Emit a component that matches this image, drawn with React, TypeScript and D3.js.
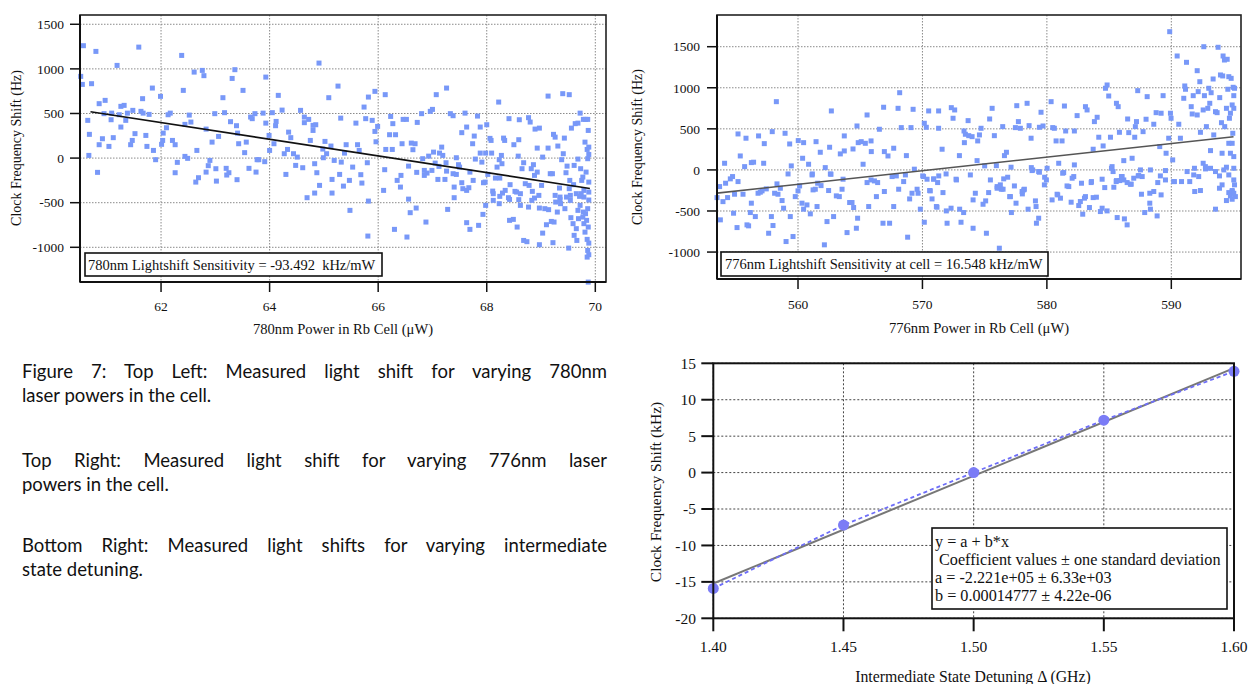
import React, { useLayoutEffect, useRef } from 'react';
import * as d3 from 'd3';

const SERIF = '"Liberation Serif", "Times New Roman", serif';
const SANS = 'Lato, "Open Sans", sans-serif';

// ---------- Top-left: 780nm ----------
const tlXTicks = [62, 64, 66, 68, 70];
const tlYTicks = [-1000, -500, 0, 500, 1000, 1500];
const tlSlope = -93.492; // Hz per uW (fit)
const tlIntercept = 6194.96;
const tlFitRange = [60.7, 69.9];
const tlPoints: [number, number][] = [
[60.57,1260],[60.52,916],[60.55,826],[60.72,834],[60.80,1196],[60.65,423],[60.68,266],[60.67,30],[60.83,-160],[60.86,610],[60.86,150],[60.92,217],[60.97,647],[60.95,498],[61.04,131],[61.08,430],[61.09,504],[61.12,229],[61.19,1039],[61.23,486],[61.26,580],[61.32,591],[61.26,348],[61.35,423],[61.38,504],[61.44,150],[61.47,198],[61.48,535],[61.52,274],[61.59,1244],[61.63,524],[61.66,666],[61.67,504],[61.72,254],[61.74,131],[61.78,490],[61.84,785],[61.86,86],[61.90,-18],[61.99,692],[62.01,154],[62.04,280],[62.03,198],[62.10,340],[62.13,486],[62.17,504],[62.21,198],[62.26,150],[62.26,-164],[62.30,-48],[62.38,1151],[62.41,759],[62.44,378],[62.44,19],[62.49,-3],[62.52,482],[62.55,404],[62.61,964],[62.64,-269],[62.66,86],[62.69,-220],[62.76,983],[62.79,924],[62.83,325],[62.83,-157],[62.87,-85],[62.90,-26],[62.94,179],[62.99,498],[63.01,-119],[63.02,-258],[63.06,243],[63.14,677],[63.17,509],[63.20,-115],[63.21,-190],[63.25,-164],[63.28,408],[63.31,893],[63.36,991],[63.39,363],[63.40,-242],[63.41,280],[63.43,161],[63.51,759],[63.54,61],[63.57,179],[63.62,-115],[63.65,460],[63.68,442],[63.73,498],[63.75,-157],[63.77,-18],[63.80,-18],[63.88,504],[63.91,-40],[63.93,908],[63.93,392],[63.99,254],[64.00,86],[64.05,509],[64.08,161],[64.11,363],[64.12,411],[64.16,703],[64.23,538],[64.27,49],[64.30,-183],[64.35,291],[64.33,97],[64.39,229],[64.44,49],[64.48,-82],[64.51,11],[64.57,535],[64.61,-108],[64.64,460],[64.64,397],[64.69,-444],[64.72,434],[64.75,198],[64.80,367],[64.83,-63],[64.85,374],[64.91,1065],[64.92,-306],[64.83,-392],[64.80,310],[64.87,-164],
[65.02,187],[64.98,101],[64.99,4],[65.05,49],[65.09,677],[65.13,135],[65.15,-239],[65.15,-392],[65.19,-26],[65.26,807],[65.29,-183],[65.32,-45],[65.31,448],[65.36,-314],[65.38,56],[65.41,150],[65.47,-250],[65.53,-101],[65.59,392],[65.62,150],[65.65,86],[65.68,-186],[65.70,-280],[65.74,572],[65.77,442],[65.80,-52],[65.82,684],[65.89,423],[65.94,748],[65.94,299],[65.99,355],[65.96,183],[66.13,711],[66.14,97],[66.12,-130],[66.10,-362],[66.21,262],[66.23,467],[66.26,97],[66.27,386],[66.32,262],[66.35,-250],[66.42,-194],[66.41,-325],[66.44,161],[66.46,434],[66.52,434],[66.56,-90],[66.56,-460],[66.61,168],[66.64,94],[66.68,161],[66.71,-160],[66.72,400],[66.80,498],[66.82,-7],[66.85,-138],[66.90,-168],[66.85,-194],[66.93,22],[66.96,524],[67.00,546],[66.99,-138],[67.02,67],[67.05,-56],[67.07,711],[67.10,-239],[67.12,-93],[67.13,56],[67.17,123],[67.19,30],[67.23,-239],[67.25,-52],[67.26,785],[67.26,-146],[67.33,498],[67.38,475],[67.38,-175],[67.40,-325],[67.44,4],[67.44,-183],[67.48,-74],[67.50,-101],[67.54,285],[67.54,-276],[67.56,-343],[67.60,504],[67.63,348],[67.63,-362],[67.67,-332],[67.69,-157],[67.74,161],[67.75,-250],[67.77,247],[67.79,-11],[67.83,471],[67.88,348],[67.88,56],[67.91,-45],[67.94,-276],[67.97,-269],[67.98,56],[68.00,374],[68.02,-183],[68.06,221],[68.08,198],[68.09,56],[68.11,-370],[68.12,-399],[68.16,-224],[68.19,-101],[68.22,628],[68.23,-18],[68.24,-224],[68.27,30],[68.28,-63],[68.29,-392],[68.31,224],[68.33,198],[68.34,-362],[68.40,-444],[68.41,442],[68.43,-298],[68.50,150],[68.52,-373],[68.55,-381],[68.58,22],[68.59,206],[68.60,430],[68.62,-399],[68.65,-119],[68.68,-52],[68.71,-287],[68.77,453],[68.78,-306],[68.80,404],[68.82,-119],[68.84,-373],[68.86,-74],[68.88,-194],[68.89,325],[68.93,-157],[68.93,112],[68.96,-418],[68.97,336],[69.01,-306],[69.03,11],[69.13,112],[69.13,695],[69.17,-175],[69.21,-175],[69.23,266],[69.26,235],[69.31,135],[69.34,-336],[69.35,-437],[69.38,-18],[69.40,722],[69.41,49],[69.43,224],[69.46,-164],[69.48,-90],[69.52,711],[69.52,-343],[69.53,-250],[69.54,-418],[69.56,336],[69.60,-298],[69.61,-82],[69.63,386],[69.65,-399],[69.68,392],[69.68,-11],[69.71,-429],[69.72,504],[69.73,-119],[69.75,-250],[69.77,-213],[69.78,434],[69.79,-362],[69.79,-437],[69.81,179],[69.82,434],[69.83,-157],[69.85,97],[69.86,434],[69.86,-7],[69.87,310],[69.88,123],[69.88,41],[69.88,-269],[69.88,-381],[69.88,-470],
[65.48,-586],[65.82,-482],[65.81,-874],[66.30,-799],[66.53,-885],[66.59,-612],[66.70,-560],[66.88,-717],[67.28,-575],[67.40,-444],[67.63,-724],[67.69,-799],[67.85,-754],[67.93,-631],[67.98,-530],[68.12,-474],[68.24,-429],[68.23,-511],[68.42,-698],[68.49,-687],[68.56,-773],[68.42,-463],[68.59,-466],[68.62,-530],[68.68,-923],[68.74,-937],[68.77,-549],[68.83,-474],[68.88,-448],[68.97,-560],[68.97,-971],[69.03,-841],[69.07,-567],[69.10,-747],[69.14,-578],[69.19,-710],[69.22,-948],[69.24,-717],[69.26,-418],[69.27,-493],[69.30,-605],[69.35,-466],[69.36,-511],[69.44,-567],[69.47,-437],[69.51,-1009],[69.54,-474],[69.55,-668],[69.59,-735],[69.61,-866],[69.65,-791],[69.66,-923],[69.68,-586],[69.69,-679],[69.72,-530],[69.74,-399],[69.77,-661],[69.78,-605],[69.79,-735],[69.81,-830],[69.82,-623],[69.84,-698],[69.85,-911],[69.85,-1110],[69.86,-1035],[69.86,-567],[69.87,-773],[69.88,-953],[69.88,-1083],[69.87,-1390]
];

// ---------- Top-right: 776nm ----------
const trXTicks = [560, 570, 580, 590];
const trYTicks = [-1000, -500, 0, 500, 1000, 1500];
const trSlope = 16.548;
const trIntercept = -9442.15;
const trFitRange = [553.49, 595.0];
const trPoints: [number, number][] = [
[558.26,831],[562.68,718],[568.17,940],[566.88,763],[568.04,750],[569.25,738],[565.55,669],[564.74,535],[566.54,495],[568.30,515],[569.08,515],[555.18,438],[555.82,386],[556.83,414],[557.29,320],[557.93,466],[558.96,446],[559.33,316],[560.02,357],[560.45,332],[561.45,344],[561.79,215],[562.54,276],[563.40,195],[563.72,231],[563.72,414],[564.42,255],[564.84,332],[565.08,344],[565.41,324],[565.87,353],[565.89,223],[565.23,69],[566.94,223],[567.23,170],[567.69,264],[568.71,174],[570.15,568],[570.31,519],[570.50,718],[571.30,718],[571.30,507],[554.10,81],[555.36,170],[555.71,40],[556.25,89],[556.43,94],[557.24,81],[559.20,-49],[559.46,49],[560.37,142],[560.85,69],[561.15,-49],[562.19,28],[562.60,-49],
[553.49,-337],[553.70,-203],[553.76,-608],[553.97,-386],[554.18,-162],[554.34,-337],[554.56,-109],[554.74,-81],[554.90,-296],[555.18,-142],[554.82,-527],[555.10,-702],[555.58,-296],[556.17,-519],[556.03,-681],[555.90,-669],[556.25,-405],[556.57,-568],[556.79,-284],[556.97,-271],[557.11,-255],[557.45,-231],[557.64,-771],[557.86,-568],[557.99,-677],[558.12,-284],[558.31,-170],[558.39,-296],[558.58,-223],[558.72,-373],[558.84,-466],[559.04,-872],[559.38,-568],[559.60,-811],[559.78,-325],[560.00,-255],[560.13,-195],[560.32,-405],[560.45,-478],[560.72,-426],[560.99,-535],[561.13,-61],[561.21,-243],[561.39,-235],[561.53,-446],[561.58,-162],[561.85,-191],[562.12,-912],[562.33,-629],[562.46,-251],[562.65,-53],[562.86,-568],[563.08,-316],[563.32,-325],[563.54,-235],[563.62,-113],[563.94,-763],[564.15,-397],[564.34,-397],[564.47,-458],[564.69,-710],[564.79,-588],[565.55,-154],[565.68,-446],[565.87,-122],[566.14,-134],[566.30,-325],[566.40,-154],[566.83,-649],[566.94,-263],[567.36,-649],[567.56,-81],[567.69,-446],[567.90,-73],[568.09,-235],[568.49,-142],[568.63,-61],[568.81,-819],[568.97,-353],[569.16,-284],[569.35,9],[569.57,-235],[569.65,-284],[569.83,-478],[570.02,-73],[570.15,-637],[570.37,-113],[570.58,-251],[570.77,-353],[570.90,-113],[571.12,-446],[571.31,-73],
[571.58,252],[572.32,758],[572.59,730],[572.46,629],[572.97,174],[573.34,474],[573.45,434],[573.67,600],[573.72,417],[573.99,405],[573.37,332],[574.44,353],[574.58,426],[574.71,507],[574.39,113],[575.00,49],[575.40,620],[575.60,750],[575.78,417],[575.94,52],[576.45,527],[576.75,215],[576.59,174],[577.12,33],[577.47,515],[577.58,782],[577.71,588],[577.87,507],[578.41,811],[578.57,539],[578.73,386],[578.86,0],[579.34,-20],[579.40,519],[579.53,702],[579.69,535],[580.02,20],[580.34,831],[580.47,515],[580.60,507],[580.74,353],[580.95,81],[581.22,353],[581.27,-40],[581.41,778],[581.51,474],[582.21,474],[582.21,61],[582.43,661],[583.10,770],[583.23,730],[583.72,252],[583.82,588],[584.04,641],[584.17,398],[584.52,292],[584.71,994],[584.84,1034],[584.97,900],[585.11,398],[585.24,40],[585.59,811],[585.73,770],[585.83,458],[586.18,113],[586.49,620],[586.58,454],[586.85,142],[587.06,398],[587.11,527],[587.20,588],[587.30,965],[587.73,466],[587.97,617],[588.06,892],[588.59,556],[588.78,697],[589.07,284],[589.18,690],[589.34,904],[589.58,203],[589.79,386],[589.87,1683],[589.93,690],[589.98,629],[590.47,1387],[590.60,556],[590.73,386],[591.00,872],[591.08,1022],[591.14,982],[591.22,1310],[591.60,770],[591.68,681],[591.76,904],[592.08,669],[592.08,1208],[592.16,953],[592.29,1074],[592.34,458],[592.56,730],[592.66,904],[592.61,1500],[592.82,527],[592.93,750],[593.01,994],[593.09,811],[593.20,940],[593.36,1107],[593.41,426],[593.55,709],[593.68,697],[593.76,1493],[593.89,880],[593.95,1156],[594.03,575],[594.13,1144],[594.16,1387],[594.29,527],[594.43,750],[594.27,1338],[594.49,1347],[594.54,982],[594.62,1135],[594.67,629],[594.75,690],[594.81,1115],[594.89,791],[594.94,446],[594.97,1006],[595.02,904],[595.02,750],[594.89,324],[594.62,324],[595.08,994],[594.75,203],[594.08,203],[595.02,162],[593.15,235],[592.75,12],[593.15,20],[593.55,-20],[593.87,-73],[594.22,0],[594.43,33],[594.62,-61],[595.02,20],[595.02,-122],[594.89,-263],[595.15,-325],[592.56,81],[592.20,-81],[591.86,20],[591.80,-61],[591.27,-20],[590.82,-142],[590.25,-142],[590.11,122],[589.53,-8],[589.12,-73],[588.91,-154],[588.32,0],[588.27,-284],[587.66,-81],[587.52,0],[587.34,-73],[586.78,-174],[586.45,-154],[586.18,-122],[585.99,-81],[585.59,-130],[585.32,-20],[584.65,-215],[584.44,-113],[583.58,-142],[583.10,-325],[582.78,-162],[582.16,-81],[581.76,-203],[581.35,-32],[580.82,-296],[579.96,-122],[579.80,-182],[578.81,-8],[578.14,-243],[578.03,-292],[577.39,-195],[577.01,-325],[576.85,-89],[576.53,-109],[576.34,-235],[576.00,-203],[575.46,-122],[575.32,-276],[574.25,-284],[573.85,-61],[572.70,-113],[571.90,-49],[571.65,-276],[571.22,-154],[570.90,-109],[570.63,-255],[570.09,-81],
[571.17,-454],[571.98,-649],[571.92,-499],[572.30,-466],[572.73,-122],[572.99,-478],[573.10,-637],[573.31,-519],[574.07,-365],[574.07,-710],[574.87,-418],[575.08,-377],[575.14,-771],[576.00,-223],[576.18,-953],[576.26,-182],[576.48,-235],[577.07,-325],[577.15,-519],[577.52,-405],[578.01,-263],[578.19,-235],[578.49,-478],[578.75,28],[579.08,-377],[579.13,-446],[579.16,-649],[579.34,-588],[579.40,-28],[579.82,-89],[580.42,-365],[580.87,-304],[581.09,-344],[581.62,-195],[581.95,-393],[582.03,-101],[582.56,-434],[582.69,-385],[582.88,-539],[583.02,-344],[583.42,-458],[583.56,-154],[583.72,-337],[583.98,-332],[584.30,-507],[584.44,-466],[584.84,-499],[585.19,20],[585.38,-211],[585.57,-142],[585.65,-580],[585.85,-130],[586.05,-81],[586.23,-596],[586.45,-669],[586.71,-174],[586.98,-101],[587.38,-69],[587.60,-296],[587.86,-519],[588.27,-405],[588.32,-478],[588.59,-263],[588.86,-560],[589.18,-304],[589.53,-122],[590.19,-142],[591.48,-142],[591.88,-263],[592.34,-251],[592.74,40],[593.55,-478],[593.87,-223],[594.08,-182],[594.43,-373],[594.62,-276],[594.75,-316],[594.89,-251],[595.02,-284],[595.08,-182],[594.89,-357]
];

// ---------- Bottom-right: detuning ----------
const detuningGHz = [1.40, 1.45, 1.50, 1.55, 1.60];
const shiftKHz = [-15.9, -7.2, 0.0, 7.2, 13.9];
const fitA = -222.1; // kHz
const fitB = 147.77; // kHz per GHz
const brXTicks = [1.40, 1.45, 1.50, 1.55, 1.60];
const brYTicks = [-20, -15, -10, -5, 0, 5, 10, 15];

const captionLines = [
  { text: 'Figure 7: Top Left: Measured light shift for varying 780nm', justify: true },
  { text: 'laser powers in the cell.', justify: false },
  { text: 'Top Right: Measured light shift for varying 776nm laser', justify: true },
  { text: 'powers in the cell.', justify: false },
  { text: 'Bottom Right: Measured light shifts for varying intermediate', justify: true },
  { text: 'state detuning.', justify: false },
];
const captionY = [378, 402, 467, 491, 552, 576];

const legendBottom = [
  'y = a + b*x',
  ' Coefficient values \u00b1 one standard deviation',
  'a = -2.221e+05 \u00b1 6.33e+03',
  'b = 0.00014777 \u00b1 4.22e-06',
];

function JLine({ x, y, width, text, justify }: { x: number; y: number; width: number; text: string; justify: boolean }) {
  const ref = useRef<SVGTextElement>(null);
  useLayoutEffect(() => {
    const fit = () => {
      const el = ref.current;
      if (!el || !justify) return;
      el.style.wordSpacing = '0px';
      const natural = el.getComputedTextLength();
      const spaces = (text.match(/ /g) || []).length;
      if (spaces > 0) el.style.wordSpacing = `${Math.max(0, (width - natural) / spaces)}px`;
    };
    fit();
    if ((document as any).fonts) (document as any).fonts.ready.then(fit);
  }, [text, width, justify]);
  return (
    <text ref={ref} x={x} y={y} fontFamily={SANS} fontSize={18.5} fill="#111" style={{ whiteSpace: 'pre' }}>
      {text}
    </text>
  );
}

type ScatterCfg = {
  left: number; right: number; top: number; bottom: number;
  xDomain: [number, number]; yDomain: [number, number];
  xTicks: number[]; yTicks: number[];
  points: [number, number][];
  slope: number; intercept: number; fitRange: number[]; fitColor: string;
  xTitle: string; yTitle: string; xTitleY: number; yTitleX: number; yTitleCy: number;
  xLabelY: number; yLabelX: number;
  legend: string; legendBox: [number, number, number, number]; legendTextX: number; legendTextY: number;
};

function ScatterPanel({ c }: { c: ScatterCfg }) {
  const x = d3.scaleLinear().domain(c.xDomain).range([c.left, c.right]);
  const y = d3.scaleLinear().domain(c.yDomain).range([c.bottom, c.top]);
  const fitLine = d3.line<number>().x((v) => x(v)).y((v) => y(c.intercept + c.slope * v));
  const sq = 5;
  return (
    <g>
      {c.yTicks.map((t) => (
        <line key={'gy' + t} x1={c.left} x2={c.right} y1={y(t)} y2={y(t)} stroke="#8a8a8a" strokeWidth={1} strokeDasharray="1.5,1.5" />
      ))}
      {c.xTicks.map((t) => (
        <line key={'gx' + t} x1={x(t)} x2={x(t)} y1={c.top} y2={c.bottom} stroke="#8a8a8a" strokeWidth={1} strokeDasharray="1.5,1.5" />
      ))}
      {c.points.map((p, i) => (
        <rect key={i} x={x(p[0]) - sq / 2} y={y(p[1]) - sq / 2} width={sq} height={sq} fill="#7898f8" />
      ))}
      <path d={fitLine(c.fitRange) || ''} fill="none" stroke={c.fitColor} strokeWidth={1.6} />
      <rect x={c.left} y={c.top} width={c.right - c.left} height={c.bottom - c.top} fill="none" stroke="#222" strokeWidth={1.6} />
      <line x1={c.left} x2={c.left} y1={c.top} y2={c.bottom} stroke="#111" strokeWidth={2} />
      <line x1={c.left} x2={c.right} y1={c.bottom} y2={c.bottom} stroke="#111" strokeWidth={2} />
      {c.yTicks.map((t) => (
        <g key={'ty' + t}>
          <line x1={c.left - 10} x2={c.left} y1={y(t)} y2={y(t)} stroke="#111" strokeWidth={1.5} />
          <text x={c.yLabelX} y={y(t)} dy="0.35em" textAnchor="end" fontFamily={SERIF} fontSize={13.5} fill="#111">{String(t)}</text>
        </g>
      ))}
      {c.xTicks.map((t) => (
        <g key={'tx' + t}>
          <line x1={x(t)} x2={x(t)} y1={c.bottom} y2={c.bottom + 10} stroke="#111" strokeWidth={1.5} />
          <text x={x(t)} y={c.xLabelY} textAnchor="middle" fontFamily={SERIF} fontSize={13.5} fill="#111">{String(t)}</text>
        </g>
      ))}
      <rect x={c.legendBox[0]} y={c.legendBox[1]} width={c.legendBox[2]} height={c.legendBox[3]} fill="#fff" stroke="#111" strokeWidth={1.6} />
      <text x={c.legendTextX} y={c.legendTextY} fontFamily={SERIF} fontSize={14.5} fill="#111" style={{ whiteSpace: 'pre' }}>{c.legend}</text>
      <text x={(c.left + c.right) / 2} y={c.xTitleY} textAnchor="middle" fontFamily={SERIF} fontSize={14.6} fill="#111">{c.xTitle}</text>
      <text transform={`translate(${c.yTitleX},${c.yTitleCy}) rotate(-90)`} textAnchor="middle" fontFamily={SERIF} fontSize={14} fill="#111">{c.yTitle}</text>
    </g>
  );
}

const tlCfg: ScatterCfg = {
  left: 80, right: 606, top: 15, bottom: 282,
  xDomain: [60.507, 70.197], yDomain: [-1389, 1604],
  xTicks: tlXTicks, yTicks: tlYTicks, points: tlPoints,
  slope: tlSlope, intercept: tlIntercept, fitRange: tlFitRange, fitColor: '#111',
  xTitle: '780nm Power in Rb Cell (\u03bcW)', yTitle: 'Clock Frequency Shift (Hz)',
  xTitleY: 334, yTitleX: 21, yTitleCy: 148, xLabelY: 311, yLabelX: 64,
  legend: '780nm Lightshift Sensitivity = -93.492  kHz/mW', legendBox: [85, 253, 297, 23], legendTextX: 88, legendTextY: 270,
};

const trCfg: ScatterCfg = {
  left: 717, right: 1241, top: 15, bottom: 279,
  xDomain: [553.49, 595.6], yDomain: [-1328, 1886],
  xTicks: trXTicks, yTicks: trYTicks, points: trPoints,
  slope: trSlope, intercept: trIntercept, fitRange: trFitRange, fitColor: '#555',
  xTitle: '776nm Power in Rb Cell (\u03bcW)', yTitle: 'Clock Frequency Shift (Hz)',
  xTitleY: 333, yTitleX: 642, yTitleCy: 147, xLabelY: 309, yLabelX: 700,
  legend: '776nm Lightshift Sensitivity at cell = 16.548 kHz/mW', legendBox: [721, 252, 327, 24], legendTextX: 725, legendTextY: 269,
};

const brXTitle = 'Intermediate State Detuning \u0394 (GHz)';
const brYTitle = 'Clock Frequency Shift (kHz)';

function BottomPanel() {
  const left = 713.3, right = 1234, top = 363.3, bottom = 618.3;
  const x = d3.scaleLinear().domain([1.4, 1.6]).range([left, right]);
  const y = d3.scaleLinear().domain([-20, 15]).range([bottom, top]);
  const pts = detuningGHz.map((d, i) => [d, shiftKHz[i]] as [number, number]);
  const dataLine = d3.line<[number, number]>().x((d) => x(d[0])).y((d) => y(d[1]));
  const fitLine = d3.line<number>().x((v) => x(v)).y((v) => y(fitA + fitB * v));
  const fmt = d3.format('.2f');
  return (
    <g>
      {brYTicks.map((t) => (
        <line key={'gy' + t} x1={left} x2={right} y1={y(t)} y2={y(t)} stroke="#444" strokeWidth={1} strokeDasharray="2,2" />
      ))}
      {brXTicks.map((t) => (
        <line key={'gx' + t} x1={x(t)} x2={x(t)} y1={top} y2={bottom} stroke="#444" strokeWidth={1} strokeDasharray="2,2" />
      ))}
      <path d={fitLine([1.4, 1.6]) || ''} fill="none" stroke="#777" strokeWidth={2} />
      <path d={dataLine(pts) || ''} fill="none" stroke="#6e6ef8" strokeWidth={1.8} strokeDasharray="4,3" />
      {pts.map((p, i) => (
        <circle key={i} cx={x(p[0])} cy={y(p[1])} r={5.5} fill="#7b7cf6" />
      ))}
      <rect x={left} y={top} width={right - left} height={bottom - top} fill="none" stroke="#111" strokeWidth={2} />
      {brYTicks.map((t) => (
        <g key={'ty' + t}>
          <line x1={left - 12} x2={left} y1={y(t)} y2={y(t)} stroke="#111" strokeWidth={2} />
          <text x={696} y={y(t)} dy="0.35em" textAnchor="end" fontFamily={SERIF} fontSize={15.5} fill="#111">{String(t)}</text>
        </g>
      ))}
      {brXTicks.map((t) => (
        <g key={'tx' + t}>
          <line x1={x(t)} x2={x(t)} y1={bottom} y2={bottom + 13} stroke="#111" strokeWidth={2} />
          <text x={x(t)} y={652} textAnchor="middle" fontFamily={SERIF} fontSize={15.5} fill="#111">{fmt(t)}</text>
        </g>
      ))}
      <rect x={932} y={528} width={295} height={81} fill="#fff" stroke="#111" strokeWidth={1.6} />
      {legendBottom.map((s, i) => (
        <text key={i} x={935} y={547 + i * 18.1} fontFamily={SERIF} fontSize={16.2} fill="#111" style={{ whiteSpace: 'pre' }}>{s}</text>
      ))}
      <text x={973} y={682} textAnchor="middle" fontFamily={SERIF} fontSize={15.8} fill="#111">{brXTitle}</text>
      <text transform="translate(661,492) rotate(-90)" textAnchor="middle" fontFamily={SERIF} fontSize={15.5} fill="#111">{brYTitle}</text>
    </g>
  );
}

export default function App() {
  return (
    <svg width={1248} height={684} style={{ position: 'absolute', left: 0, top: 0, background: '#fff' }}>
      <rect width={1248} height={684} fill="#fff" />
      <ScatterPanel c={tlCfg} />
      <ScatterPanel c={trCfg} />
      <BottomPanel />
      {captionLines.map((l, i) => (
        <JLine key={i} x={22} y={captionY[i]} width={585} text={l.text} justify={l.justify} />
      ))}
    </svg>
  );
}
